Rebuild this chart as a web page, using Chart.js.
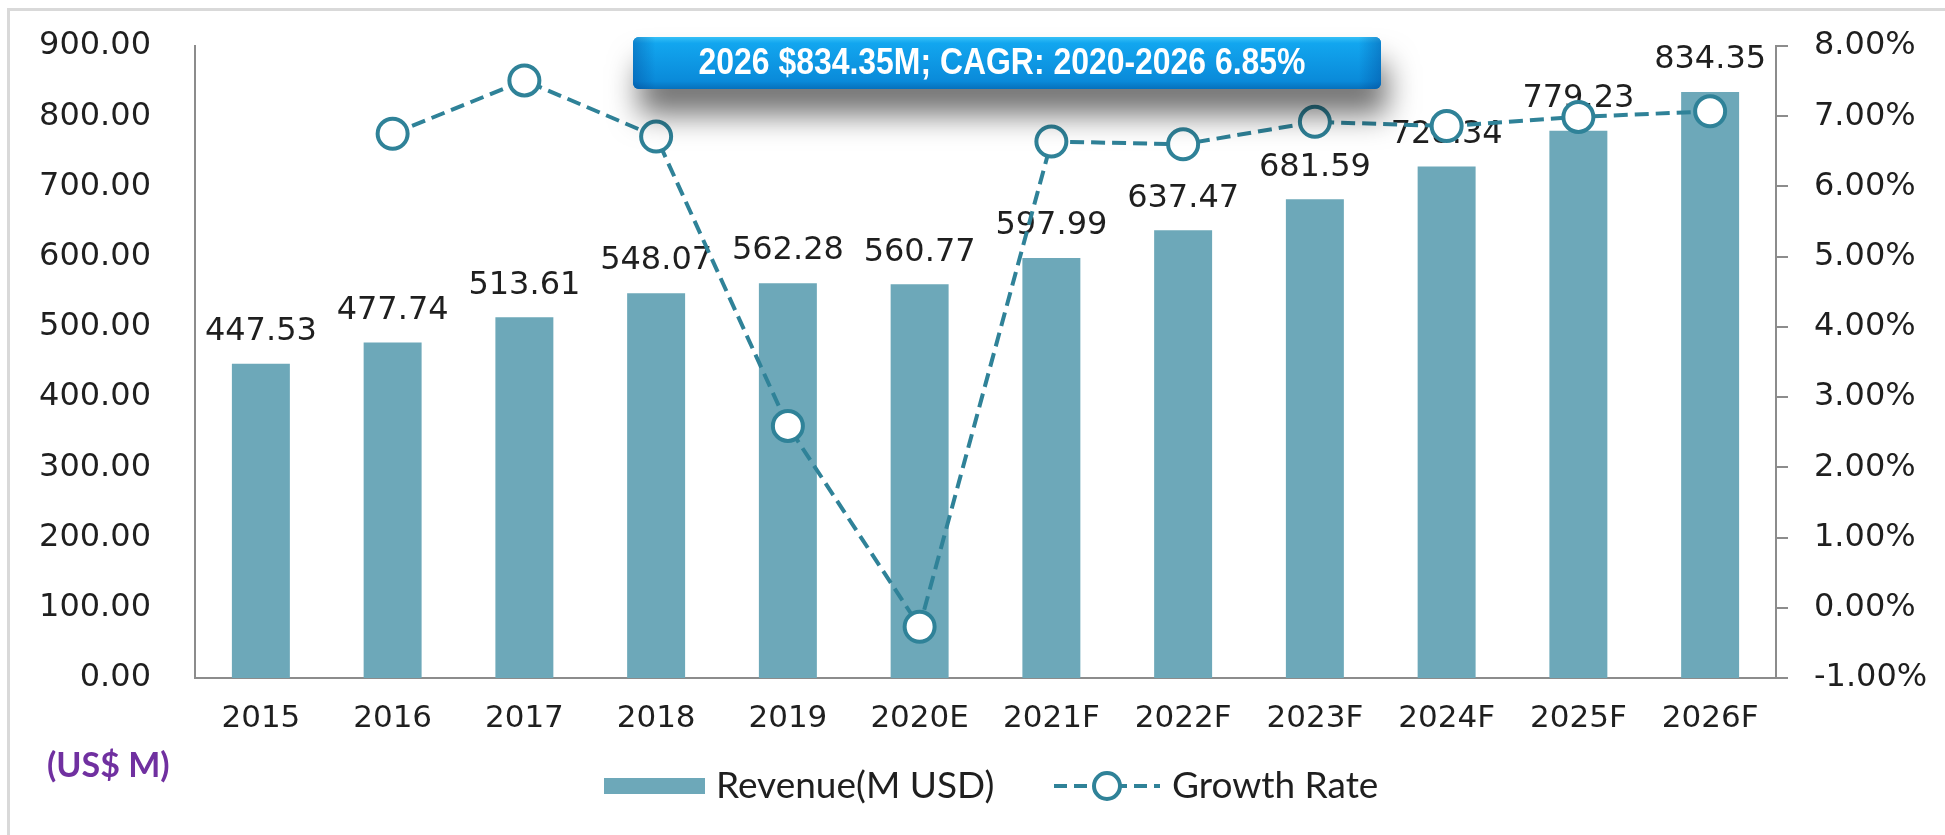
<!DOCTYPE html>
<html lang="en">
<head>
  <meta charset="UTF-8" />
  <title>Revenue and Growth Rate</title>
  <script src="https://cdn.jsdelivr.net/npm/chart.js"></script>
  <style>
    html, body { margin: 0; padding: 0; background: #fff; }
    #chart { display: block; }
  </style>
</head>
<body>
  <canvas id="chart" width="1945" height="835"></canvas>

  <script>
    // Data
    const years = ["2015", "2016", "2017", "2018", "2019", "2020E", "2021F", "2022F", "2023F", "2024F", "2025F", "2026F"];
    const revenue = [447.53, 477.74, 513.61, 548.07, 562.28, 560.77, 597.99, 637.47, 681.59, 728.34, 779.23, 834.35];
    const growthRate = [null, 6.75, 7.51, 6.71, 2.59, -0.27, 6.64, 6.60, 6.92, 6.86, 6.99, 7.07];
    const revenueTicks = [0, 100, 200, 300, 400, 500, 600, 700, 800, 900];
    const growthTicks = [-1, 0, 1, 2, 3, 4, 5, 6, 7, 8];
    const headline = "2026 $834.35M; CAGR: 2020-2026 6.85%";
    const unitLabel = "(US$ M)";

    const barColor = "#6da8b9";
    const lineColor = "#2f8298";
    const axisColor = "#8c8c8c";
    const textColor = "#1f1f1f";
    const tickFont = { family: "DejaVu Sans", size: 32 };

    // fill text squeezed/stretched to a target width
    function fillFit(ctx, text, x, y, width) {
      const w = ctx.measureText(text).width;
      ctx.save();
      ctx.translate(x, y);
      ctx.scale(width / w, 1);
      ctx.textAlign = "center";
      ctx.fillText(text, 0, 0);
      ctx.restore();
    }

    // fixed axis sizes, ignore label overflow so the plot area lands where the reference has it
    function fixWidth(w) {
      return s => { s.width = w; s.paddingTop = 0; s.paddingBottom = 0; };
    }

    const decorations = {
      id: "decorations",
      beforeDraw(chart) {
        const ctx = chart.ctx;
        ctx.save();
        ctx.fillStyle = "#fff";
        ctx.fillRect(0, 0, chart.width, chart.height);
        ctx.strokeStyle = "#d9d9d9";
        ctx.lineWidth = 3;
        ctx.strokeRect(8.5, 9.5, chart.width + 20, chart.height + 20);
        ctx.restore();
      },
      afterDatasetDraw(chart, args) {
        // value labels above bars, drawn before the line goes on top
        if (args.index !== 0) return;
        const ctx = chart.ctx;
        ctx.save();
        ctx.font = "32px 'DejaVu Sans'";
        ctx.fillStyle = textColor;
        ctx.textAlign = "center";
        ctx.textBaseline = "middle";
        args.meta.data.forEach((bar, i) => {
          ctx.fillText(revenue[i].toFixed(2), bar.x, bar.y - 32);
        });
        ctx.restore();
      },
      afterDraw(chart) {
        const ctx = chart.ctx;
        ctx.save();

        // headline box with drop shadow
        const bx = 633, by = 37, bw = 748, bh = 52;
        ctx.save();
        ctx.shadowColor = "rgba(0,0,0,0.55)";
        ctx.shadowBlur = 30;
        ctx.shadowOffsetX = 6;
        ctx.shadowOffsetY = 26;
        ctx.fillStyle = "#0c86d6";
        ctx.beginPath();
        ctx.roundRect(bx, by, bw, bh, 6);
        ctx.fill();
        ctx.restore();

        const g = ctx.createLinearGradient(0, by, 0, by + bh);
        g.addColorStop(0, "#35c0f7");
        g.addColorStop(0.12, "#12a6ef");
        g.addColorStop(0.85, "#0a8ad9");
        g.addColorStop(1, "#0670bb");
        ctx.fillStyle = g;
        ctx.beginPath();
        ctx.roundRect(bx, by, bw, bh, 6);
        ctx.fill();
        // darker side bevels
        const sg = ctx.createLinearGradient(bx, 0, bx + bw, 0);
        sg.addColorStop(0, "rgba(0,60,140,0.35)");
        sg.addColorStop(0.03, "rgba(0,60,140,0)");
        sg.addColorStop(0.97, "rgba(0,60,140,0)");
        sg.addColorStop(1, "rgba(0,60,140,0.35)");
        ctx.fillStyle = sg;
        ctx.beginPath();
        ctx.roundRect(bx, by, bw, bh, 6);
        ctx.fill();

        ctx.fillStyle = "#fff";
        ctx.font = "bold 37px 'Liberation Sans Narrow', 'Liberation Sans', sans-serif";
        ctx.textBaseline = "middle";
        fillFit(ctx, headline, 1002, by + bh / 2 + 1, 607);

        // unit label
        ctx.fillStyle = "#7030a0";
        ctx.font = "bold 34px Lato";
        ctx.textAlign = "left";
        ctx.textBaseline = "middle";
        ctx.fillText(unitLabel, 47, 766);

        // legend
        const ly = 786;
        const ds = chart.data.datasets;
        ctx.font = "37px Lato";
        ctx.fillStyle = barColor;
        ctx.fillRect(604, ly - 8, 101, 16);
        ctx.fillStyle = textColor;
        ctx.fillText(ds[0].label, 716, ly);

        ctx.strokeStyle = lineColor;
        ctx.lineWidth = 4;
        ctx.setLineDash([13, 7]);
        ctx.beginPath();
        ctx.moveTo(1054, ly);
        ctx.lineTo(1160, ly);
        ctx.stroke();
        ctx.setLineDash([]);
        ctx.fillStyle = "#fff";
        ctx.beginPath();
        ctx.arc(1107, ly, 13, 0, Math.PI * 2);
        ctx.fill();
        ctx.stroke();
        ctx.fillStyle = textColor;
        ctx.fillText(ds[1].label, 1172, ly);

        ctx.restore();
      }
    };

    new Chart(document.getElementById("chart"), {
      type: "bar",
      data: {
        labels: years,
        datasets: [
          {
            label: "Revenue(M USD)",
            data: revenue,
            backgroundColor: barColor,
            barPercentage: 0.44,
            categoryPercentage: 1,
            yAxisID: "y",
            order: 2
          },
          {
            type: "line",
            label: "Growth Rate",
            data: growthRate,
            yAxisID: "y1",
            borderColor: lineColor,
            borderWidth: 4,
            borderDash: [14, 7],
            tension: 0,
            pointRadius: 15,
            pointBorderWidth: 4,
            pointBackgroundColor: "#fff",
            pointBorderColor: lineColor,
            order: 1
          }
        ]
      },
      options: {
        responsive: false,
        animation: false,
        layout: { padding: { top: 46, left: 0, right: 0, bottom: 0 } },
        plugins: {
          legend: { display: false },
          tooltip: { enabled: false }
        },
        scales: {
          x: {
            grid: { display: false, drawTicks: false },
            border: { display: true, color: axisColor, width: 2 },
            ticks: { color: textColor, font: { family: "DejaVu Sans", size: 31 }, padding: 22, maxRotation: 0, autoSkip: false },
            afterFit: s => { s.height = 157; }
          },
          y: {
            position: "left",
            min: revenueTicks[0],
            max: revenueTicks[revenueTicks.length - 1],
            afterBuildTicks: s => { s.ticks = revenueTicks.map(v => ({ value: v })); },
            grid: { display: false, drawTicks: false },
            border: { display: true, color: axisColor, width: 2 },
            ticks: { color: textColor, font: tickFont, padding: 44, callback: v => v.toFixed(2) },
            afterFit: fixWidth(195)
          },
          y1: {
            position: "right",
            min: growthTicks[0],
            max: growthTicks[growthTicks.length - 1],
            afterBuildTicks: s => { s.ticks = growthTicks.map(v => ({ value: v })); },
            grid: { drawOnChartArea: false, drawTicks: true, tickLength: 12, color: axisColor, lineWidth: 2 },
            border: { display: true, color: axisColor, width: 2 },
            ticks: { color: textColor, font: tickFont, padding: 26, callback: v => v.toFixed(2) + "%" },
            afterFit: fixWidth(169)
          }
        }
      },
      plugins: [decorations]
    });
  </script>
</body>
</html>
